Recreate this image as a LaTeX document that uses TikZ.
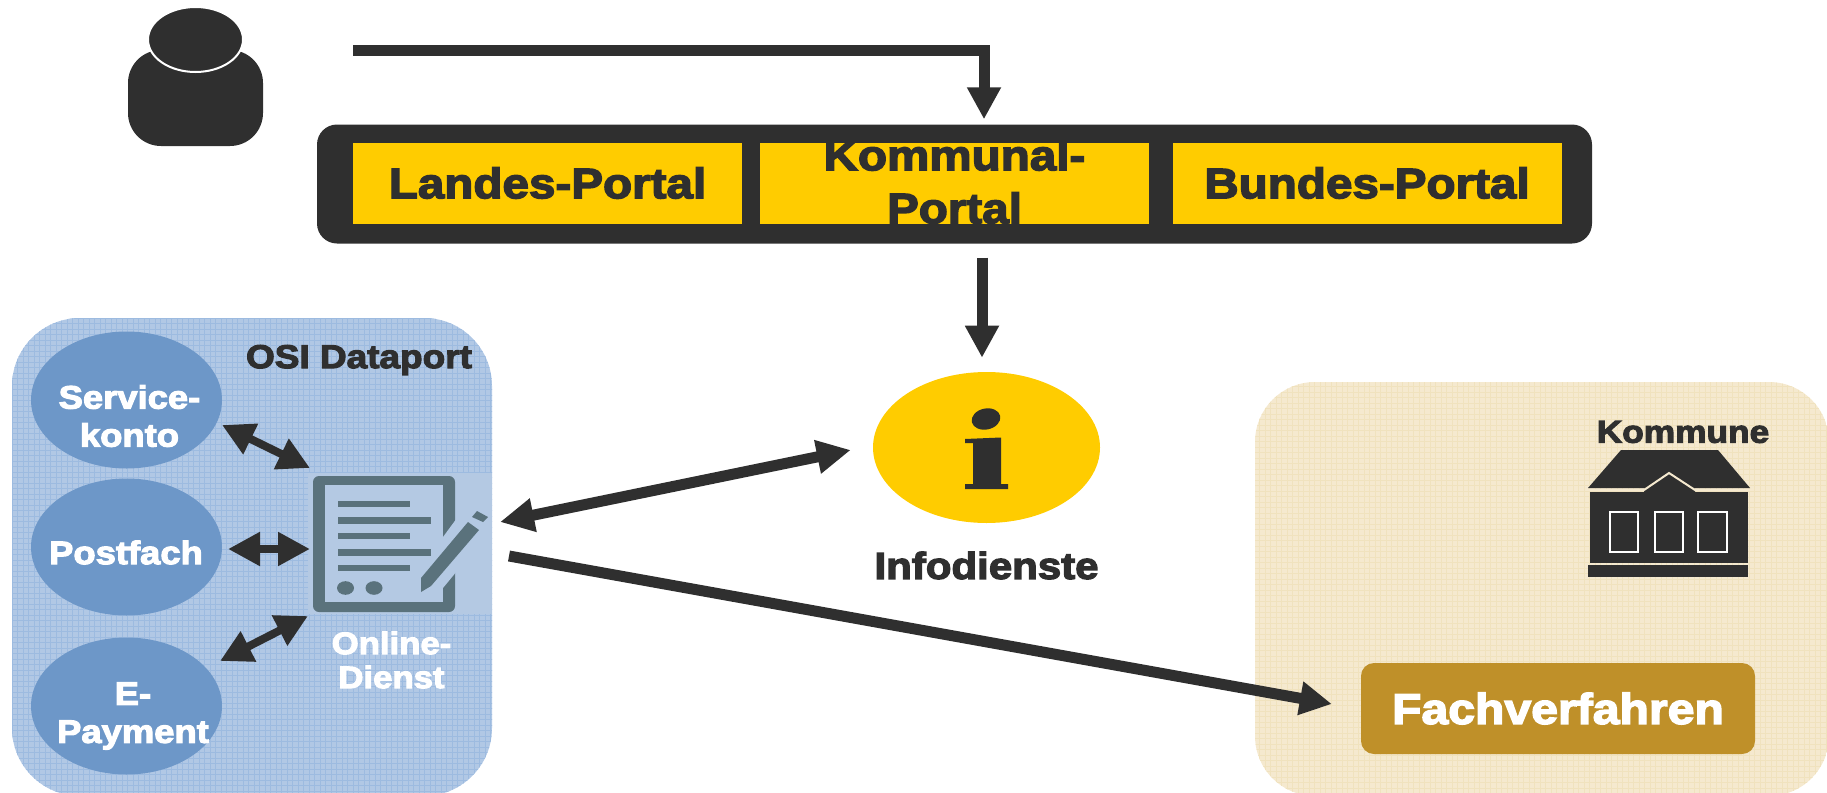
\documentclass[tikz,border=0pt]{standalone}
\usepackage{fontspec}
\setmainfont{Liberation Sans}[BoldFeatures={FakeBold=3.4,FakeStretch=1.12}]
\usetikzlibrary{shapes.geometric,arrows.meta}
\definecolor{dark}{HTML}{2F2F2F}
\definecolor{gold}{HTML}{FFCC00}
\definecolor{blueE}{HTML}{6D97C8}
\definecolor{blueB}{HTML}{B1C8E5}
\definecolor{blueL}{HTML}{9DBBE0}
\definecolor{blueR}{HTML}{B4C9E3}
\definecolor{tanB}{HTML}{F5E9CF}
\definecolor{tanL}{HTML}{F0E2BE}
\definecolor{fach}{HTML}{BF9029}
\definecolor{icon}{HTML}{5A727C}
\tikzset{
  lbl/.style={font=\fontsize{#1}{#1}\bfseries\selectfont,text=dark,inner sep=0pt,align=center},
  wlbl/.style={lbl=#1,text=white},
  portalbox/.style={rectangle,fill=gold,minimum width=389,minimum height=81,inner sep=0pt,
     font=\fontsize{42.5}{53}\bfseries\selectfont,text=dark,align=center},
  svc/.style={ellipse,fill=blueE,minimum width=191,minimum height=137,inner sep=0pt},
  svct/.style={inner sep=0pt,font=\fontsize{32.5}{38}\bfseries\selectfont,text=white,align=center},
  conn/.style={draw=dark,line width=#1},
  bigtip/.style={-{Triangle[length=32,width=32]}},
  smalltwo/.style={{Triangle[length=32,width=32]}-{Triangle[length=32,width=32]}},
  win/.style={draw=white,line width=2,fill=none}
}
\begin{document}
\begin{tikzpicture}[x=1pt,y=-1pt]
\useasboundingbox (0,0) rectangle (1827,792);
% OSI panel
\begin{scope}
  \clip[rounded corners=68] (12,318) rectangle (492,796);
  \fill[blueB] (0,310) rectangle (500,800);
  \foreach \g in {12,17.5,...,500}{\draw[blueL,line width=1] (\g,310)--(\g,800);}
  \foreach \g in {318,323.5,...,800}{\draw[blueL,line width=1] (0,\g)--(500,\g);}
  \fill[blueR] (308,473) rectangle (492,614);
\end{scope}
% Kommune panel
\begin{scope}
  \clip[rounded corners=60] (1255,382) rectangle (1829,796);
  \fill[tanB] (1250,375) rectangle (1830,800);
  \foreach \g in {1254,1259.5,...,1830}{\draw[tanL,line width=1] (\g,375)--(\g,800);}
  \foreach \g in {381,386.5,...,800}{\draw[tanL,line width=1] (1250,\g)--(1830,\g);}
\end{scope}
% person
\node[rectangle,fill=dark,rounded corners=33,minimum width=135,minimum height=96,inner sep=0] (body) at (195.5,98) {};
\node[ellipse,fill=dark,draw=white,line width=2,minimum width=95,minimum height=65,inner sep=0] (head) at (195.5,39.5) {};
% portal bar
\node[rectangle,fill=dark,rounded corners=20,minimum width=1275,minimum height=119,inner sep=0] (bar) at (954.5,184) {};
\node[portalbox] (land) at (547.5,183) {Landes-Portal};
\node[portalbox,fill=none] (kommbg) at (954.5,183.5) {};
\fill[gold] (kommbg.south west) rectangle (kommbg.north east);
\node[portalbox,fill=none] (komm) at (954.5,181.5) {Kommunal-\\Portal};
\node[portalbox] (bund) at (1367,183) {Bundes-Portal};
% top arrow
\coordinate (start) at (353,50.5);
\draw[conn=11,bigtip] (start) -| ([shift={(29.5,-5)}]bar.north);
\draw[conn=11,bigtip] ([shift={(27.5,14)}]bar.south) -- ([shift={(27.5,114)}]bar.south);
% info
\node[ellipse,fill=gold,minimum width=227,minimum height=151,inner sep=0] (info) at (986.5,447.5) {};
\fill[dark,rotate around={12:(986,419)}] (986,419) ellipse [x radius=14.5,y radius=10.5];
\fill[dark] (965,439) -- (1001,437.5) -- (1001,484) -- (1008,484) -- (1008,489) -- (965,489) -- (965,484) -- (973,484) -- (973,443) -- (965,443) -- cycle;
\node[lbl=37.5] (infot) at (986.5,565.5) {Infodienste};
% OSI contents
\node[lbl=33] (osi) at (359,360) {OSI Dataport};
\node[svc] (sk) at (126.5,400) {};
\node[svc] (pf) at (126.5,547) {};
\node[svc] (ep) at (126.5,706) {};
\node[svct] (skt) at (129.5,416) {Service-\\konto};
\node[svct] (pft) at (126,552.5) {Postfach};
\node[svct] (ept) at (133,716) {E-\\Payment};
% document icon
\coordinate (doc) at (384,544);
\fill[icon,rounded corners=6] (313,476) rectangle (455,612);
\fill[blueR] (325,485) rectangle (443,602);
\fill[blueR] (443,537) -- (457,518) -- (457,571) -- (443,588) -- cycle;
\foreach \yy/\xe in {504/409.5,520.5/431,536/409.5,552.5/431,568/409.5}{\fill[icon] (337.5,\yy-3.2) rectangle (\xe,\yy+3.2);}
\fill[icon] (345.5,588) ellipse [x radius=8.5,y radius=6.8];
\fill[icon] (374,588) ellipse [x radius=8.5,y radius=6.8];
\fill[icon] (421,578) -- (468,522) -- (479,530) -- (431,586) -- (421,592) -- cycle;
\fill[icon] (472,517) -- (477,511) -- (488,517) -- (483,522) -- cycle;
\node[wlbl=31] (oln) at (391.5,660) {Online-\\[3pt]Dienst};
% arrows in OSI
\draw[conn=8,smalltwo] ([shift={(95.5,25)}]sk.center) -- ([shift={(-74,-76)}]doc);
\draw[conn=8,smalltwo] ([shift={(101.5,2)}]pf.center) -- ([shift={(-74,5)}]doc);
\draw[conn=8,smalltwo] ([shift={(93.5,-45)}]ep.center) -- ([shift={(-76,72)}]doc);
% Kommune
\node[lbl=31.5] (kom) at (1683,432) {Kommune};
\fill[dark] (1621,450) -- (1718,450) -- (1750,488) -- (1588,488) -- cycle;
\fill[dark] (1590,492) rectangle (1748,563);
\fill[dark] (1588,564.5) rectangle (1748,577);
\fill[dark] (1644,489) -- (1669,472) -- (1695,489) -- (1695,493) -- (1644,493) -- cycle;
\draw[tanB,line width=2] (1588,490) -- (1644,490) -- (1669,473) -- (1695,490) -- (1750,490);
\draw[win] (1610,512) rectangle (1638,552);
\draw[win] (1655,512) rectangle (1683,552);
\draw[win] (1698,512) rectangle (1727,552);
\node[rectangle,fill=fach,rounded corners=13,minimum width=394,minimum height=91,inner sep=0,
  font=\fontsize{43}{49}\bfseries\selectfont,text=white] (fv) at (1558,708.5) {Fachverfahren};
% long arrows
\draw[conn=11,{Triangle[length=34,width=32]}-{Triangle[length=34,width=32]}] ([shift={(116,-22)}]doc) -- ([shift={(-22,2.5)}]info.west);
\draw[conn=11,bigtip] ([shift={(125,12)}]doc) -- ([shift={(-29,-4.5)}]fv.west);
\end{tikzpicture}
\end{document}
